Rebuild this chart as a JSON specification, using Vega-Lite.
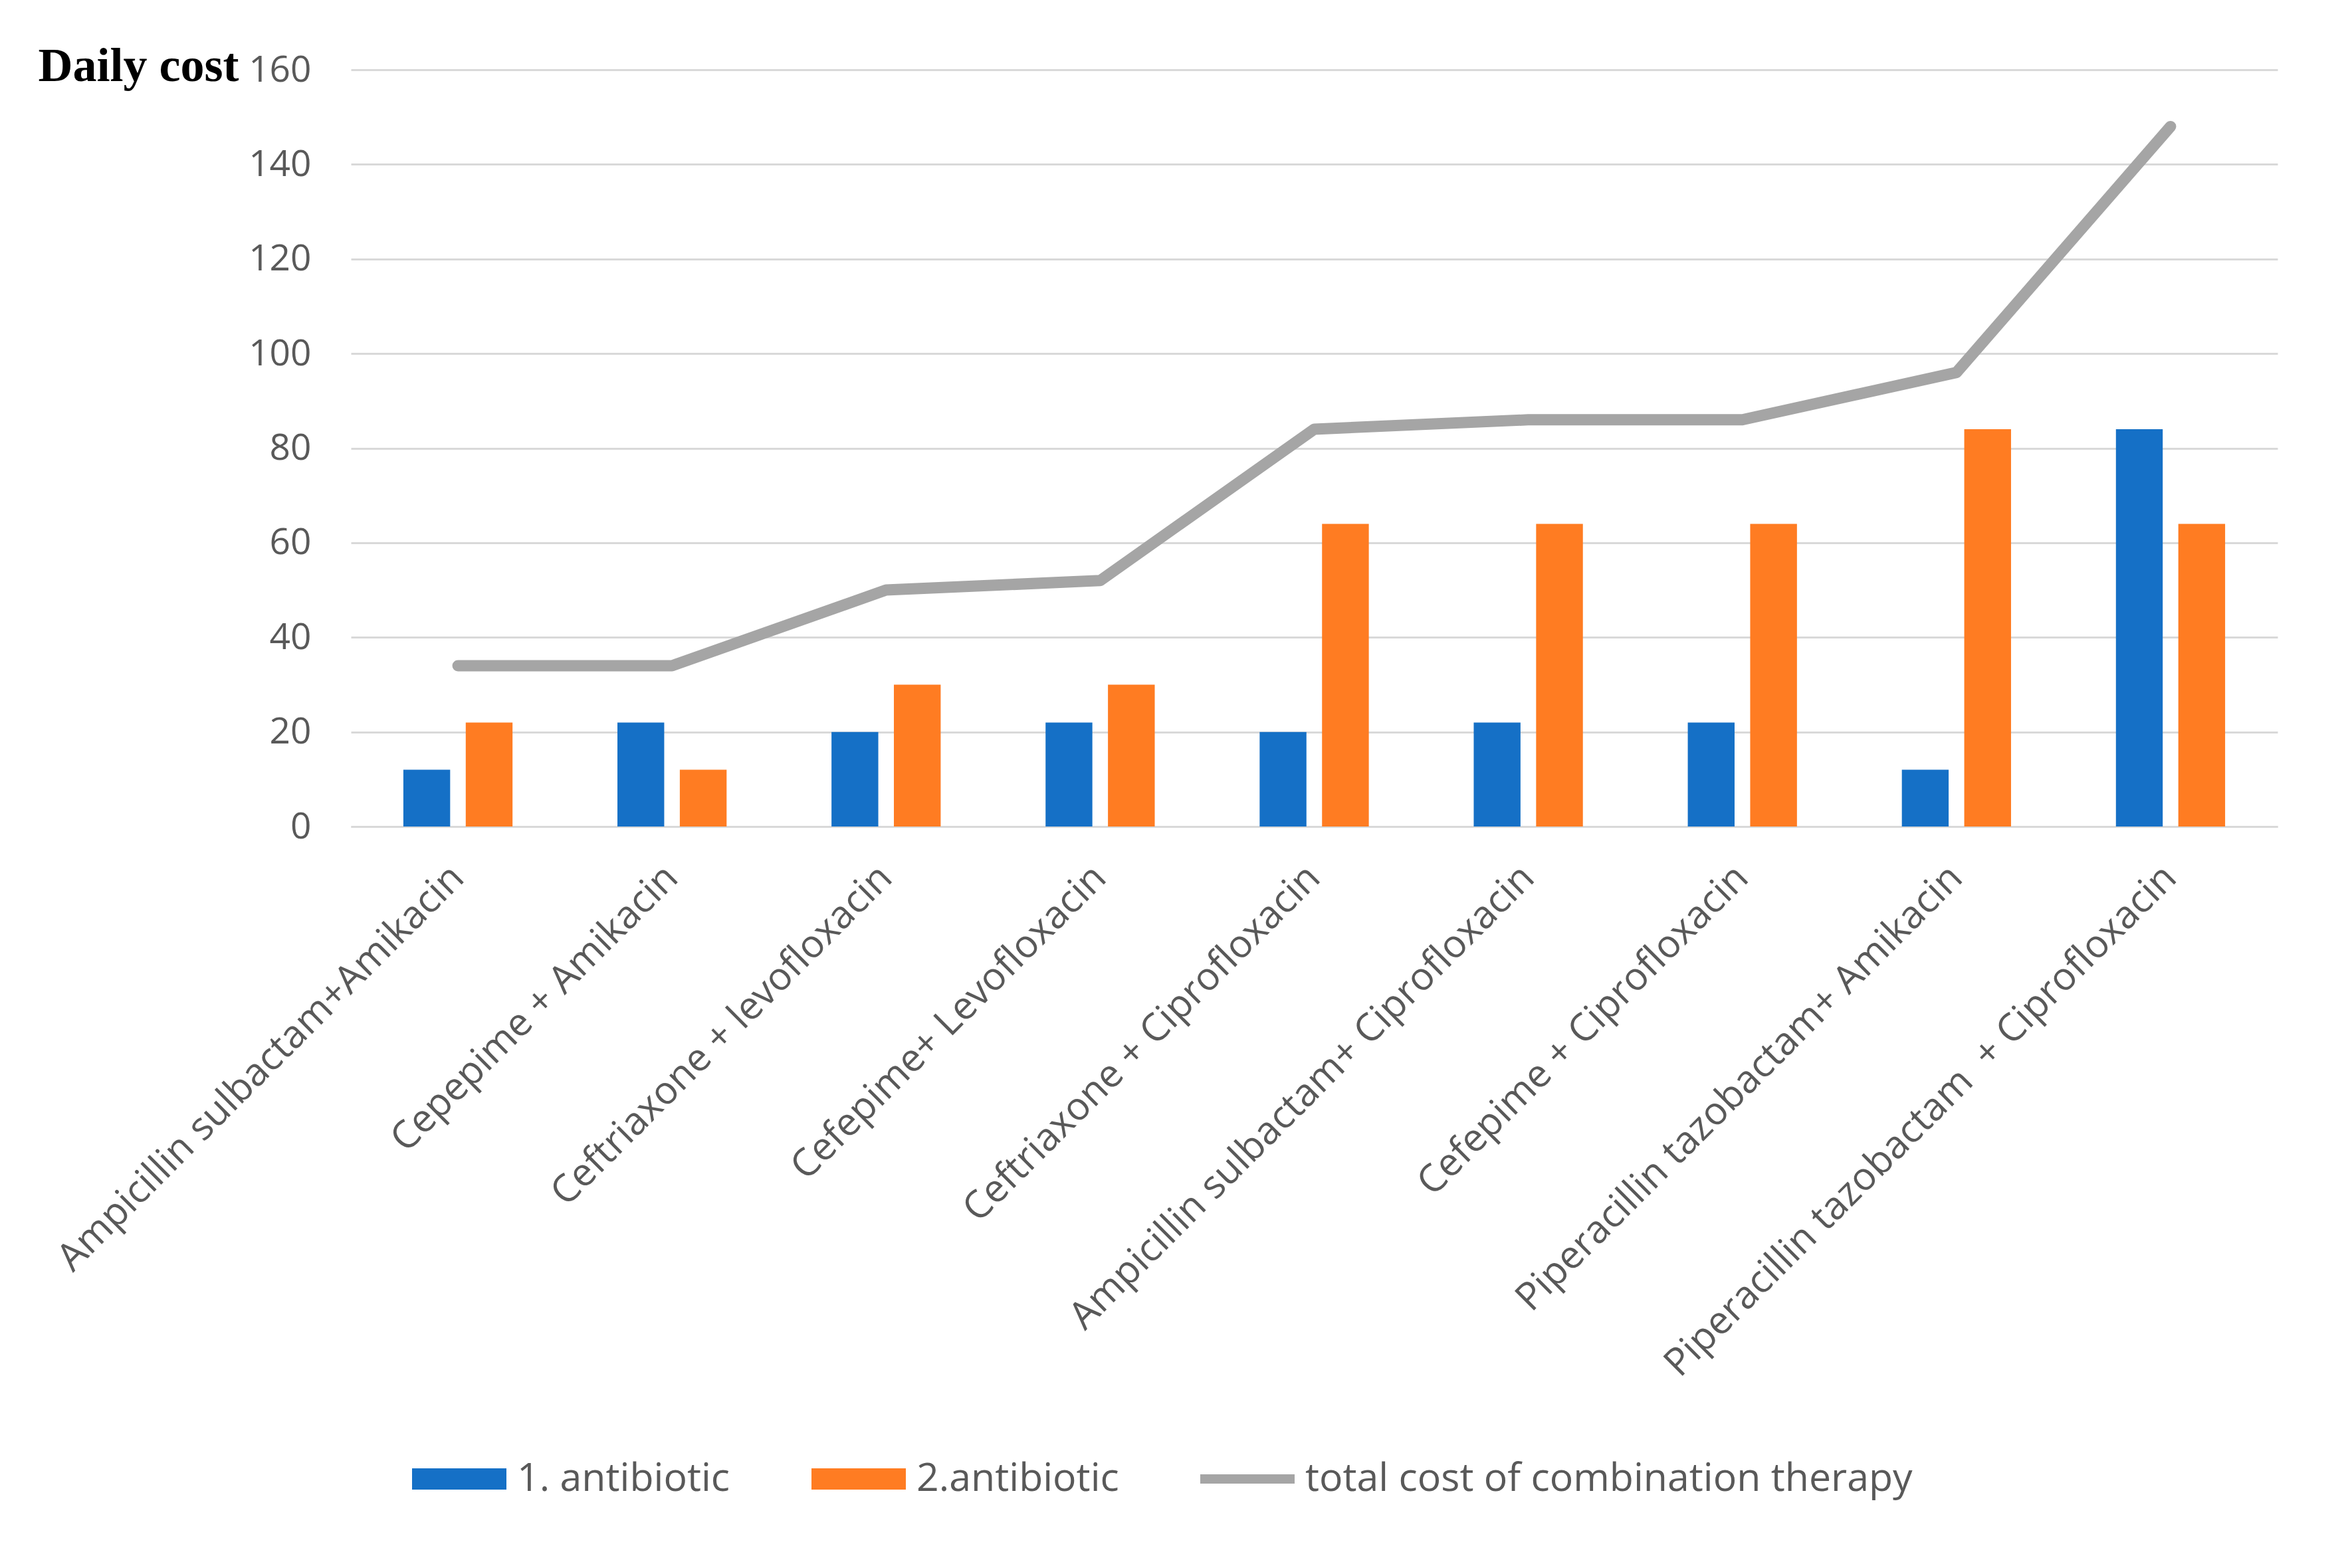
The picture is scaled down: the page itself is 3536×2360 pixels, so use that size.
{
  "$schema": "https://vega.github.io/schema/vega-lite/v6.json",
  "autosize": {"type": "none"},
  "width": 2899,
  "height": 1139,
  "padding": {"left": 528, "top": 105, "right": 109, "bottom": 1116},
  "background": "white",
  "datasets": {
    "bars": [
      {"combo": "Ampicillin sulbactam+Amikacin", "series": "1. antibiotic", "value": 12},
      {"combo": "Ampicillin sulbactam+Amikacin", "series": "2.antibiotic", "value": 22},
      {"combo": "Cepepime + Amikacin", "series": "1. antibiotic", "value": 22},
      {"combo": "Cepepime + Amikacin", "series": "2.antibiotic", "value": 12},
      {"combo": "Ceftriaxone + levofloxacin", "series": "1. antibiotic", "value": 20},
      {"combo": "Ceftriaxone + levofloxacin", "series": "2.antibiotic", "value": 30},
      {"combo": "Cefepime+ Levofloxacin", "series": "1. antibiotic", "value": 22},
      {"combo": "Cefepime+ Levofloxacin", "series": "2.antibiotic", "value": 30},
      {"combo": "Ceftriaxone + Ciprofloxacin", "series": "1. antibiotic", "value": 20},
      {"combo": "Ceftriaxone + Ciprofloxacin", "series": "2.antibiotic", "value": 64},
      {"combo": "Ampicillin sulbactam+ Ciprofloxacin", "series": "1. antibiotic", "value": 22},
      {"combo": "Ampicillin sulbactam+ Ciprofloxacin", "series": "2.antibiotic", "value": 64},
      {"combo": "Cefepime + Ciprofloxacin", "series": "1. antibiotic", "value": 22},
      {"combo": "Cefepime + Ciprofloxacin", "series": "2.antibiotic", "value": 64},
      {"combo": "Piperacillin tazobactam+ Amikacin", "series": "1. antibiotic", "value": 12},
      {"combo": "Piperacillin tazobactam+ Amikacin", "series": "2.antibiotic", "value": 84},
      {"combo": "Piperacillin tazobactam \u00a0+ Ciprofloxacin", "series": "1. antibiotic", "value": 84},
      {"combo": "Piperacillin tazobactam \u00a0+ Ciprofloxacin", "series": "2.antibiotic", "value": 64}
    ],
    "totals": [
      {"combo": "Ampicillin sulbactam+Amikacin", "series": "total cost of combination therapy", "value": 34},
      {"combo": "Cepepime + Amikacin", "series": "total cost of combination therapy", "value": 34},
      {"combo": "Ceftriaxone + levofloxacin", "series": "total cost of combination therapy", "value": 50},
      {"combo": "Cefepime+ Levofloxacin", "series": "total cost of combination therapy", "value": 52},
      {"combo": "Ceftriaxone + Ciprofloxacin", "series": "total cost of combination therapy", "value": 84},
      {"combo": "Ampicillin sulbactam+ Ciprofloxacin", "series": "total cost of combination therapy", "value": 86},
      {"combo": "Cefepime + Ciprofloxacin", "series": "total cost of combination therapy", "value": 86},
      {"combo": "Piperacillin tazobactam+ Amikacin", "series": "total cost of combination therapy", "value": 96},
      {"combo": "Piperacillin tazobactam \u00a0+ Ciprofloxacin", "series": "total cost of combination therapy", "value": 148}
    ]
  },
  "config": {
    "view": {"stroke": null},
    "font": "Open Sans",
    "axis": {"labelFont": "Open Sans", "labelColor": "#595959"}
  },
  "encoding": {
    "x": {
      "field": "combo",
      "type": "nominal",
      "sort": null,
      "scale": {"paddingInner": 0.49, "paddingOuter": 0.245},
      "axis": {
        "title": null,
        "labelAngle": -45,
        "labelAlign": "right",
        "labelBaseline": "middle",
        "labelPadding": 68,
        "labelFontSize": 58,
        "labelLimit": 2000,
        "ticks": false,
        "domainColor": "#D9D9D9",
        "domainWidth": 3
      }
    },
    "y": {
      "field": "value",
      "type": "quantitative",
      "scale": {"domain": [0, 160], "nice": false},
      "axis": {
        "values": [0, 20, 40, 60, 80, 100, 120, 140, 160],
        "grid": true,
        "gridColor": "#D9D9D9",
        "gridWidth": 3,
        "domain": false,
        "ticks": false,
        "labelPadding": 60,
        "labelFontSize": 55,
        "title": "Daily cost",
        "titleAngle": 0,
        "titleAlign": "left",
        "titleBaseline": "alphabetic",
        "titleX": -471,
        "titleY": 16,
        "titleFont": "Liberation Serif",
        "titleFontSize": 72,
        "titleFontWeight": "bold",
        "titleColor": "#000000"
      }
    },
    "color": {
      "field": "series",
      "type": "nominal",
      "scale": {
        "domain": ["1. antibiotic", "2.antibiotic", "total cost of combination therapy"],
        "range": ["#1570C6", "#FF7C22", "#A5A5A5"]
      },
      "legend": {
        "title": null,
        "orient": "none",
        "direction": "horizontal",
        "legendX": 92,
        "legendY": 2050,
        "labelFont": "Open Sans",
        "labelFontSize": 59,
        "labelColor": "#595959",
        "labelOffset": 16,
        "labelLimit": 2000,
        "columnPadding": 122,
        "symbolSize": 20164,
        "symbolType": "M-1,-0.225H1V0.225H-1Z",
        "symbolStrokeWidth": 0,
        "symbolOpacity": 1,
        "encode": {
          "symbols": {
            "update": {
              "shape": {"signal": "datum.value === 'total cost of combination therapy' ? 'M-1,-0.1H1V0.1H-1Z' : 'M-1,-0.225H1V0.225H-1Z'"}
            }
          }
        }
      }
    }
  },
  "layer": [
    {
      "data": {"name": "bars"},
      "mark": {"type": "bar"},
      "encoding": {
        "xOffset": {
          "field": "series",
          "type": "nominal",
          "scale": {"paddingInner": 0.25, "paddingOuter": 0}
        }
      }
    },
    {
      "data": {"name": "totals"},
      "mark": {"type": "line", "strokeWidth": 17, "strokeCap": "round", "strokeJoin": "round"},
      "encoding": {}
    }
  ]
}
